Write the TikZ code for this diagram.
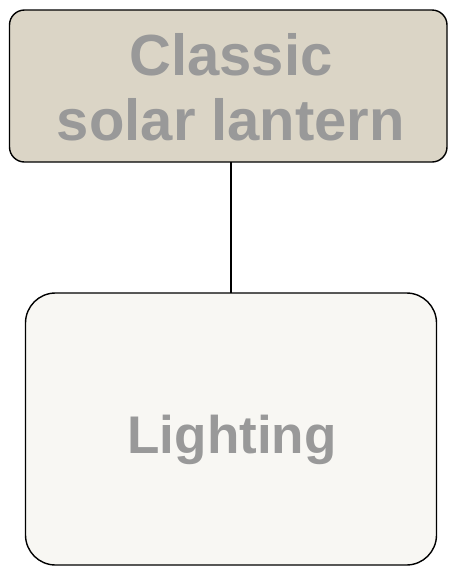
\documentclass[tikz,border=0pt]{standalone}
\usepackage{fontspec}
\setmainfont{Liberation Sans}
\definecolor{topfill}{HTML}{DBD5C6}
\definecolor{botfill}{HTML}{F8F7F3}
\definecolor{labelgray}{HTML}{999999}
\tikzset{
  box/.style={draw=black, line width=1.4pt, inner sep=0pt, outer sep=0pt},
  lbl/.style={text=labelgray, align=center, inner sep=0pt},
}
\begin{document}
\begin{tikzpicture}[x=1pt,y=-1pt]
  \useasboundingbox (0,0) rectangle (448,566);
  % parent box
  \node[box, fill=topfill, rounded corners=15pt,
        minimum width=437.5pt, minimum height=152pt] (parent) at (228.25,86) {};
  \node[lbl, font=\fontsize{58}{65}\selectfont\bfseries, anchor=base] (ptext1) at (231,75) {Classic};
  \node[lbl, font=\fontsize{58}{65}\selectfont\bfseries, anchor=base] (ptext2) at (231,140) {solar lantern};
  % child box
  \node[box, fill=botfill, rounded corners=30pt,
        minimum width=411pt, minimum height=272pt] (child) at (231,429) {};
  \node[lbl, font=\fontsize{53}{60}\selectfont\bfseries, anchor=base] (ctext) at (232,453) {Lighting};
  % connector
  \draw[line width=1.6pt] (parent.south -| child.north) -- (child.north);
\end{tikzpicture}
\end{document}
